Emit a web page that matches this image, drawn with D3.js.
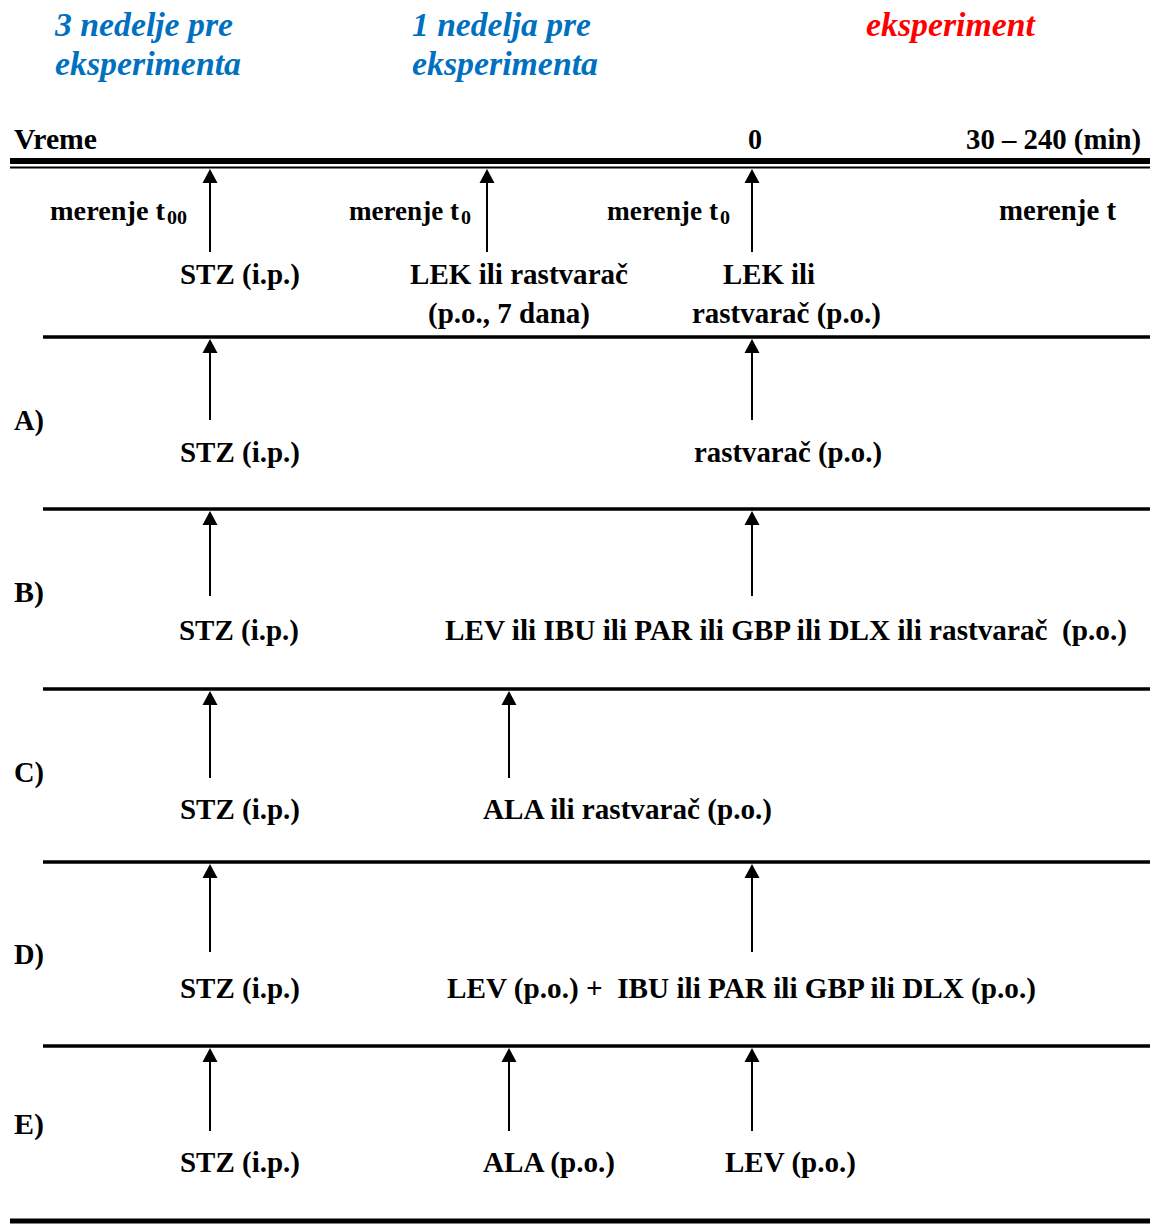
<!DOCTYPE html>
<html>
<head>
<meta charset="utf-8">
<script src="https://cdn.jsdelivr.net/npm/d3@7"></script>
<style>
  html, body { margin: 0; padding: 0; background: #fff; }
</style>
</head>
<body>
<svg id="chart" width="1150" height="1224"></svg>
<script>
// ---------- data ----------
const periodLabels = [["3 nedelje pre", "eksperimenta"], ["1 nedelja pre", "eksperimenta"], ["eksperiment"]];
const periodColors = ["#0070C0", "#0070C0", "#FF0000"];
const timeTicks = ["Vreme", "0", "30 – 240 (min)"];
const measureLabels = [["merenje t", "00"], ["merenje t", "0"], ["merenje t", "0"], ["merenje t", ""]];
const topEvents = ["stz", "week1top", "day0"];
const topTreatments = [["STZ (i.p.)"], ["LEK ili rastvarač", "(p.o., 7 dana)"], ["LEK ili", "rastvarač (p.o.)"]];
const groups = ["A)", "B)", "C)", "D)", "E)"];
const groupEvents = [["stz", "day0"], ["stz", "day0"], ["stz", "week1"], ["stz", "day0"], ["stz", "week1", "day0"]];
const groupTreatments = [
  ["STZ (i.p.)", "rastvarač (p.o.)"],
  ["STZ (i.p.)", "LEV ili IBU ili PAR ili GBP ili DLX ili rastvarač  (p.o.)"],
  ["STZ (i.p.)", "ALA ili rastvarač (p.o.)"],
  ["STZ (i.p.)", "LEV (p.o.) +  IBU ili PAR ili GBP ili DLX (p.o.)"],
  ["STZ (i.p.)", "ALA (p.o.)", "LEV (p.o.)"]
];

// ---------- layout ----------
const svg = d3.select("#chart");
const FONT = "'Liberation Serif', 'Times New Roman', Times, serif";
const evX = d3.scaleOrdinal().domain(["stz", "week1top", "week1", "day0"]).range([210, 487, 509, 752]);
const rowTop = d3.scaleOrdinal().domain(groups).range([337, 509, 689, 862, 1046]);
const rowArrowEnd = d3.scaleOrdinal().domain(groups).range([420, 596, 778, 952, 1131]);
const rowLabelBase = d3.scaleOrdinal().domain(groups).range([430, 602, 782, 964, 1134]);
const rowTextBase = d3.scaleOrdinal().domain(groups).range([462, 640, 819, 998, 1172]);
const FS = 29;

function label(g, t, x, y, w, opts = {}) {
  const el = g.append("text").attr("x", x).attr("y", y)
    .attr("font-size", opts.size || FS)
    .attr("font-weight", "bold")
    .attr("fill", opts.color || "#000")
    .style("font-family", FONT)
    .style("white-space", "pre")
    .text(t);
  if (opts.italic) el.attr("font-style", "italic");
  if (w) el.attr("textLength", w).attr("lengthAdjust", "spacingAndGlyphs");
  return el;
}

function arrow(g, x, yTip, yEnd) {
  g.append("line").attr("x1", x).attr("x2", x).attr("y1", yTip + 10).attr("y2", yEnd)
    .attr("stroke", "#000").attr("stroke-width", 2);
  g.append("path").attr("d", `M${x},${yTip} L${x - 7.5},${yTip + 14} L${x + 7.5},${yTip + 14} Z`).attr("fill", "#000");
}

// header periods
const periodPos = [{x: 55, w: [178, 186]}, {x: 412, w: [179, 186]}, {x: 866, w: [169]}];
periodLabels.forEach((lines, i) => {
  lines.forEach((t, j) => {
    label(svg, t, periodPos[i].x, 36 + j * 39, periodPos[i].w[j], {size: 33, italic: true, color: periodColors[i]});
  });
});

// time axis labels
const tickPos = [{x: 14, w: 83}, {x: 748, w: 14}, {x: 966, w: 175}];
timeTicks.forEach((t, i) => label(svg, t, tickPos[i].x, 149, tickPos[i].w));

// double top line
svg.append("line").attr("x1", 10).attr("x2", 1150).attr("y1", 161).attr("y2", 161).attr("stroke", "#000").attr("stroke-width", 6);
svg.append("line").attr("x1", 10).attr("x2", 1150).attr("y1", 167.5).attr("y2", 167.5).attr("stroke", "#000").attr("stroke-width", 2);

// top arrows
topEvents.forEach(e => arrow(svg, evX(e), 169, 252));

// measurement labels
const measPos = [{x: 50, w: 115, s: 28}, {x: 349, w: 110, s: 26.5}, {x: 607, w: 111, s: 26.5}, {x: 999, w: 117, s: 28.5}];
measureLabels.forEach((m, i) => {
  label(svg, m[0], measPos[i].x, 220, measPos[i].w, {size: measPos[i].s});
  if (m[1]) label(svg, m[1], measPos[i].x + measPos[i].w + 2, 224, m[1].length * 10, {size: 19});
});

// top treatments
const topTreatPos = [[{x: 180, w: 120}], [{x: 410, w: 218}, {x: 428, w: 162}], [{x: 723, w: 92}, {x: 692, w: 189}]];
topTreatments.forEach((lines, i) => {
  lines.forEach((t, j) => label(svg, t, topTreatPos[i][j].x, 284 + j * 39, topTreatPos[i][j].w));
});

// group rows
const groupTreatPos = [
  [{x: 180, w: 120}, {x: 694, w: 188}],
  [{x: 179, w: 120}, {x: 445, w: 682}],
  [{x: 180, w: 120}, {x: 483, w: 289}],
  [{x: 180, w: 120}, {x: 447, w: 589}],
  [{x: 180, w: 120}, {x: 483, w: 132}, {x: 725, w: 131}]
];
groups.forEach((gName, i) => {
  const g = svg.append("g");
  const y0 = rowTop(gName);
  g.append("line").attr("x1", 43).attr("x2", 1150).attr("y1", y0).attr("y2", y0).attr("stroke", "#000").attr("stroke-width", 3.5);
  groupEvents[i].forEach(e => arrow(g, evX(e), y0 + 2, rowArrowEnd(gName)));
  label(g, gName, 14, rowLabelBase(gName), 30);
  groupTreatments[i].forEach((t, j) => label(g, t, groupTreatPos[i][j].x, rowTextBase(gName), groupTreatPos[i][j].w));
});

// bottom line
svg.append("line").attr("x1", 10).attr("x2", 1150).attr("y1", 1221).attr("y2", 1221).attr("stroke", "#000").attr("stroke-width", 5);
</script>
</body>
</html>
